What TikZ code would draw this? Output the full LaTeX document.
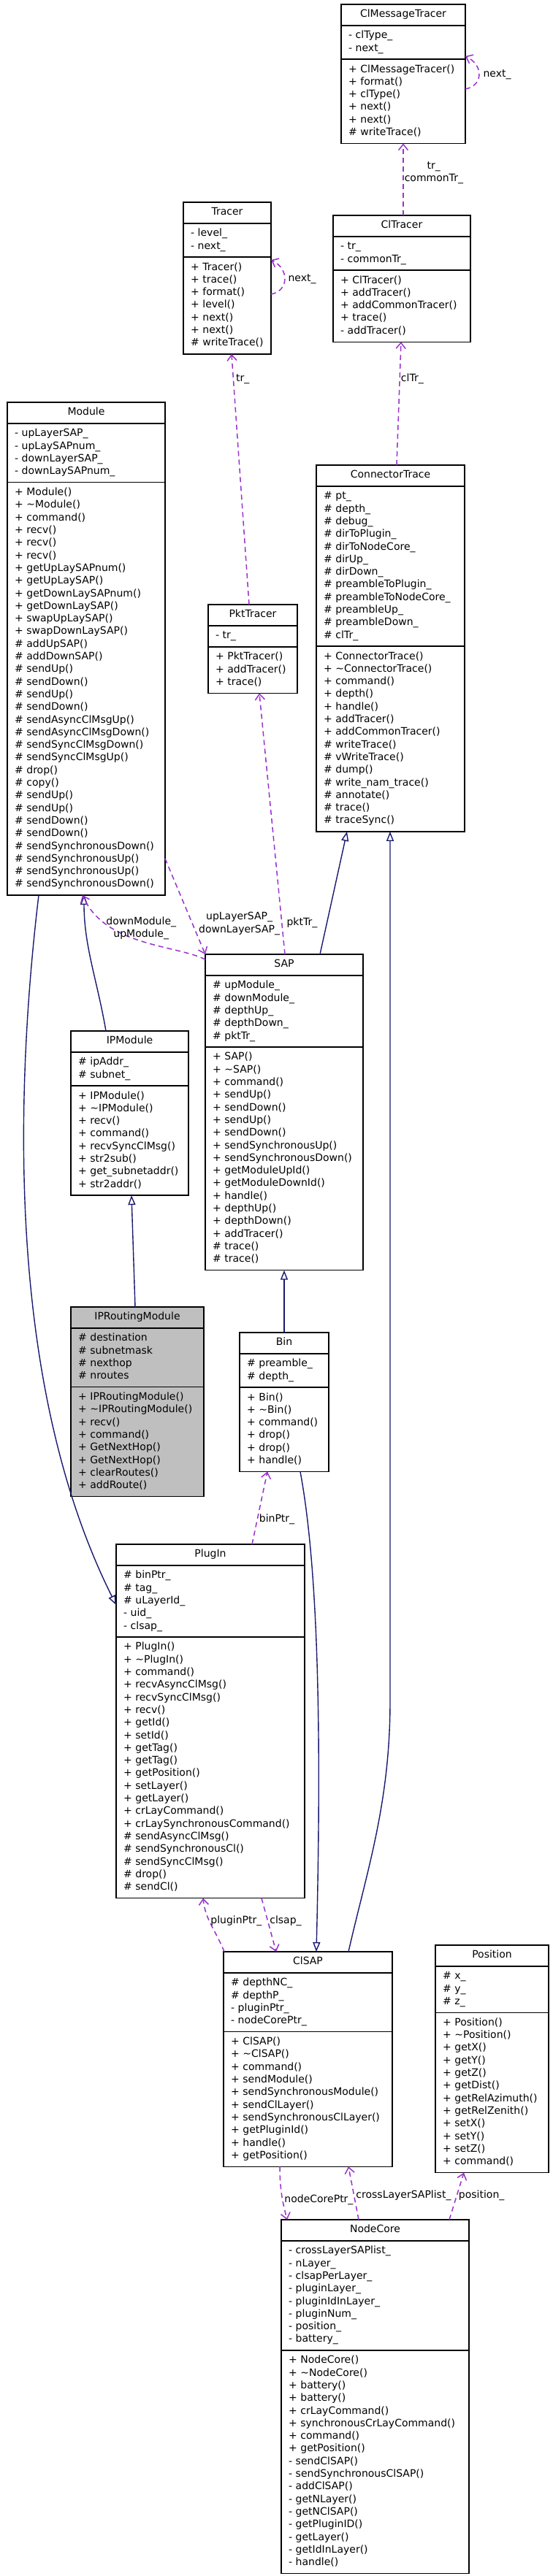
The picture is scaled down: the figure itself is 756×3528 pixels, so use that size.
\documentclass[tikz,border=0pt]{standalone}
\usepackage{fontspec}
\setmainfont{DejaVu Sans}
\usetikzlibrary{shapes.multipart, arrows.meta}

\definecolor{edgenavy}{HTML}{191970}
\definecolor{edgepurple}{HTML}{9A32CD}

\tikzset{
  classbox/.style={
    rectangle split, rectangle split parts=3, draw=black, fill=white,
    line width=1.4pt, anchor=north west, align=left, outer sep=0pt,
    inner xsep=10pt, inner ysep=5.1pt,
    font=\fontsize{14}{17.3}\selectfont
  },
  rootclass/.style={fill=gray!50},
  inherit/.style={-{Triangle[open, length=13pt, width=10pt]}, line width=1.4pt, draw=edgenavy},
  uses/.style={-{Straight Barb[length=8pt, width=13pt]}, line width=1.5pt, draw=edgepurple,
    dash pattern=on 7pt off 5pt},
  edgelabel/.style={font=\fontsize{14}{17.3}\selectfont, inner sep=1pt, align=center, anchor=west},
}

% visibility markers
\newcommand{\vpub}{+~}
\newcommand{\vpro}{\#~}
\newcommand{\vpri}{-~}
% [options]{name}{(x,y)}{text width}{title}{attributes}{methods}
\newcommand{\umlclass}[7][]{%
  \node[classbox, text width=#4, #1] (#2) at #3
    {\centering\strut #5\par
     \nodepart{two}\strut #6\strut
     \nodepart{three}\strut #7\strut};}

\begin{document}
\begin{tikzpicture}[x=1pt, y=-1pt]
  \path[fill=white, use as bounding box] (0,0) rectangle (756,3528);

  % tracers
  \umlclass{cmt}{(467,6)}{150pt}{ClMessageTracer}
    {\vpri clType\_\\\vpri next\_}
    {\vpub ClMessageTracer()\\\vpub format()\\\vpub clType()\\\vpub next()\\\vpub next()\\\vpro writeTrace()}
  \umlclass{trc}{(251,277)}{100pt}{Tracer}
    {\vpri level\_\\\vpri next\_}
    {\vpub Tracer()\\\vpub trace()\\\vpub format()\\\vpub level()\\\vpub next()\\\vpub next()\\\vpro writeTrace()}
  \umlclass{clt}{(456,295)}{168pt}{ClTracer}
    {\vpri tr\_\\\vpri commonTr\_}
    {\vpub ClTracer()\\\vpub addTracer()\\\vpub addCommonTracer()\\\vpub trace()\\\vpri addTracer()}
  \umlclass{pkt}{(285,828)}{102pt}{PktTracer}
    {\vpri tr\_}
    {\vpub PktTracer()\\\vpub addTracer()\\\vpub trace()}
  \umlclass{ctr}{(433,637)}{183pt}{ConnectorTrace}
    {\vpro pt\_\\\vpro depth\_\\\vpro debug\_\\\vpro dirToPlugin\_\\\vpro dirToNodeCore\_\\\vpro dirUp\_\\\vpro dirDown\_\\\vpro preambleToPlugin\_\\\vpro preambleToNodeCore\_\\\vpro preambleUp\_\\\vpro preambleDown\_\\\vpro clTr\_}
    {\vpub ConnectorTrace()\\\vpub\textasciitilde ConnectorTrace()\\\vpub command()\\\vpub depth()\\\vpub handle()\\\vpub addTracer()\\\vpub addCommonTracer()\\\vpro writeTrace()\\\vpro vWriteTrace()\\\vpro dump()\\\vpro write\_nam\_trace()\\\vpro annotate()\\\vpro trace()\\\vpro traceSync()}

  % modules
  \umlclass{mod}{(10,551)}{196pt}{Module}
    {\vpri upLayerSAP\_\\\vpri upLaySAPnum\_\\\vpri downLayerSAP\_\\\vpri downLaySAPnum\_}
    {\vpub Module()\\\vpub\textasciitilde Module()\\\vpub command()\\\vpub recv()\\\vpub recv()\\\vpub recv()\\\vpub getUpLaySAPnum()\\\vpub getUpLaySAP()\\\vpub getDownLaySAPnum()\\\vpub getDownLaySAP()\\\vpub swapUpLaySAP()\\\vpub swapDownLaySAP()\\\vpro addUpSAP()\\\vpro addDownSAP()\\\vpro sendUp()\\\vpro sendDown()\\\vpro sendUp()\\\vpro sendDown()\\\vpro sendAsyncClMsgUp()\\\vpro sendAsyncClMsgDown()\\\vpro sendSyncClMsgDown()\\\vpro sendSyncClMsgUp()\\\vpro drop()\\\vpro copy()\\\vpro sendUp()\\\vpro sendUp()\\\vpro sendDown()\\\vpro sendDown()\\\vpro sendSynchronousDown()\\\vpro sendSynchronousUp()\\\vpro sendSynchronousUp()\\\vpro sendSynchronousDown()}
  \umlclass{sap}{(281,1307)}{196pt}{SAP}
    {\vpro upModule\_\\\vpro downModule\_\\\vpro depthUp\_\\\vpro depthDown\_\\\vpro pktTr\_}
    {\vpub SAP()\\\vpub\textasciitilde SAP()\\\vpub command()\\\vpub sendUp()\\\vpub sendDown()\\\vpub sendUp()\\\vpub sendDown()\\\vpub sendSynchronousUp()\\\vpub sendSynchronousDown()\\\vpub getModuleUpId()\\\vpub getModuleDownId()\\\vpub handle()\\\vpub depthUp()\\\vpub depthDown()\\\vpub addTracer()\\\vpro trace()\\\vpro trace()}
  \umlclass{ipm}{(97,1412)}{141pt}{IPModule}
    {\vpro ipAddr\_\\\vpro subnet\_}
    {\vpub IPModule()\\\vpub\textasciitilde IPModule()\\\vpub recv()\\\vpub command()\\\vpub recvSyncClMsg()\\\vpub str2sub()\\\vpub get\_subnetaddr()\\\vpub str2addr()}
  \umlclass[rootclass]{iprm}{(97,1790)}{162pt}{IPRoutingModule}
    {\vpro destination\\\vpro subnetmask\\\vpro nexthop\\\vpro nroutes}
    {\vpub IPRoutingModule()\\\vpub\textasciitilde IPRoutingModule()\\\vpub recv()\\\vpub command()\\\vpub GetNextHop()\\\vpub GetNextHop()\\\vpub clearRoutes()\\\vpub addRoute()}
  \umlclass{bin}{(328,1825)}{102pt}{Bin}
    {\vpro preamble\_\\\vpro depth\_}
    {\vpub Bin()\\\vpub\textasciitilde Bin()\\\vpub command()\\\vpub drop()\\\vpub drop()\\\vpub handle()}
  \umlclass{plg}{(159,2115)}{238pt}{PlugIn}
    {\vpro binPtr\_\\\vpro tag\_\\\vpro uLayerId\_\\\vpri uid\_\\\vpri clsap\_}
    {\vpub PlugIn()\\\vpub\textasciitilde PlugIn()\\\vpub command()\\\vpub recvAsyncClMsg()\\\vpub recvSyncClMsg()\\\vpub recv()\\\vpub getId()\\\vpub setId()\\\vpub getTag()\\\vpub getTag()\\\vpub getPosition()\\\vpub setLayer()\\\vpub getLayer()\\\vpub crLayCommand()\\\vpub crLaySynchronousCommand()\\\vpro sendAsyncClMsg()\\\vpro sendSynchronousCl()\\\vpro sendSyncClMsg()\\\vpro drop()\\\vpro sendCl()}

  % node level
  \umlclass{csap}{(306,2673)}{211pt}{ClSAP}
    {\vpro depthNC\_\\\vpro depthP\_\\\vpri pluginPtr\_\\\vpri nodeCorePtr\_}
    {\vpub ClSAP()\\\vpub\textasciitilde ClSAP()\\\vpub command()\\\vpub sendModule()\\\vpub sendSynchronousModule()\\\vpub sendClLayer()\\\vpub sendSynchronousClLayer()\\\vpub getPluginId()\\\vpub handle()\\\vpub getPosition()}
  \umlclass{posn}{(596,2664)}{135pt}{Position}
    {\vpro x\_\\\vpro y\_\\\vpro z\_}
    {\vpub Position()\\\vpub\textasciitilde Position()\\\vpub getX()\\\vpub getY()\\\vpub getZ()\\\vpub getDist()\\\vpub getRelAzimuth()\\\vpub getRelZenith()\\\vpub setX()\\\vpub setY()\\\vpub setZ()\\\vpub command()}
  \umlclass{nc}{(385,3040)}{237pt}{NodeCore}
    {\vpri crossLayerSAPlist\_\\\vpri nLayer\_\\\vpri clsapPerLayer\_\\\vpri pluginLayer\_\\\vpri pluginIdInLayer\_\\\vpri pluginNum\_\\\vpri position\_\\\vpri battery\_}
    {\vpub NodeCore()\\\vpub\textasciitilde NodeCore()\\\vpub battery()\\\vpub battery()\\\vpub crLayCommand()\\\vpub synchronousCrLayCommand()\\\vpub command()\\\vpub getPosition()\\\vpri sendClSAP()\\\vpri sendSynchronousClSAP()\\\vpri addClSAP()\\\vpri getNLayer()\\\vpri getNClSAP()\\\vpri getPluginID()\\\vpri getLayer()\\\vpri getIdInLayer()\\\vpri handle()}

  % inheritance
  \coordinate (ctrfoot) at ([xshift=101pt]ctr.south west);
  \draw[inherit] ([xshift=157pt]sap.north west) -- ([xshift=42pt]ctr.south west);
  \draw[inherit] ([xshift=171pt]csap.north west) .. controls +(25,-110) and +(0,140) .. (ctrfoot |- 0,2330) -- (ctrfoot);
  \draw[inherit] ([xshift=61pt]bin.north west) -- ([xshift=108pt]sap.south west);
  \draw[inherit] ([xshift=83pt]bin.south west) .. controls +(28,150) and +(6,-250) .. ([xshift=127pt]csap.north west);
  \draw[inherit] ([xshift=88pt]iprm.north west) -- ([xshift=83pt]ipm.south west);
  \draw[inherit] ([xshift=48pt]ipm.north west) .. controls +(-12,-70) and +(0,70) .. ([xshift=105pt]mod.south west);
  \draw[inherit] ([xshift=43pt]mod.south west) .. controls +(-33,277) and +(-149,-298) .. ([yshift=-83pt]plg.north west);

  % usage
  \draw[uses] ([yshift=-116pt]cmt.north east) .. controls +(25,-5) and +(25,12)
    .. node[edgelabel, pos=0.5, xshift=4pt] (l-cmtnext) {next\_} ([yshift=-71pt]cmt.north east);
  \draw[uses] ([yshift=-126pt]trc.north east) .. controls +(25,-5) and +(25,12)
    .. node[edgelabel, pos=0.5, xshift=3pt] (l-trcnext) {next\_} ([yshift=-79pt]trc.north east);
  \draw[uses] ([xshift=96pt]clt.north west) -- node[edgelabel, pos=0.59] (l-cltr) {tr\_\\commonTr\_} ([xshift=85pt]cmt.south west);
  \draw[uses] ([xshift=56pt]pkt.north west) -- node[edgelabel, pos=0.9, xshift=2pt] (l-pkttr) {tr\_} ([xshift=66pt]trc.south west);
  \draw[uses] ([xshift=110pt]ctr.north west) -- node[edgelabel, pos=0.7] (l-cltr2) {clTr\_} ([xshift=93pt]clt.south west);
  \draw[uses] ([xshift=109pt]sap.north west) -- node[edgelabel, pos=0.12, xshift=5pt] (l-pkt) {pktTr\_} ([xshift=70pt]pkt.south west);
  \draw[uses] ([yshift=-7pt]sap.north west) .. controls +(-40,-20) and +(30,70)
    .. node[edgelabel, pos=0.5, anchor=south] (l-mods) {downModule\_\\upModule\_} ([xshift=103pt]mod.south west);
  \draw[uses] ([yshift=50pt]mod.south east) -- node[edgelabel, pos=0.68, xshift=7pt] (l-saps) {upLayerSAP\_\\downLayerSAP\_} (sap.north west);
  \draw[uses] ([xshift=186pt]plg.north west) -- node[edgelabel, pos=0.34, xshift=1pt] (l-bin) {binPtr\_} ([xshift=38pt]bin.south west);
  \draw[uses] ([xshift=1pt]csap.north west) .. controls +(-12,-30) and +(3,30)
    .. node[edgelabel, pos=0.58] (l-plg) {pluginPtr\_} ([xshift=119pt]plg.south west);
  \draw[uses] ([xshift=199pt]plg.south west) -- node[edgelabel, pos=0.43, xshift=1pt] (l-clsap) {clsap\_} ([xshift=72pt]csap.north west);
  \draw[uses] ([xshift=77pt]csap.south west) .. controls +(0,35) and +(-5,-20)
    .. node[edgelabel, pos=0.55, xshift=1pt] (l-ncp) {nodeCorePtr\_} ([xshift=8pt]nc.north west);
  \draw[uses] ([xshift=106pt]nc.north west) -- node[edgelabel, pos=0.45, xshift=1pt] (l-cross) {crossLayerSAPlist\_} ([xshift=171pt]csap.south west);
  \draw[uses] ([xshift=230pt]nc.north west) -- node[edgelabel, pos=0.51, xshift=1pt] (l-pos) {position\_} ([xshift=39pt]posn.south west);
\end{tikzpicture}
\end{document}
